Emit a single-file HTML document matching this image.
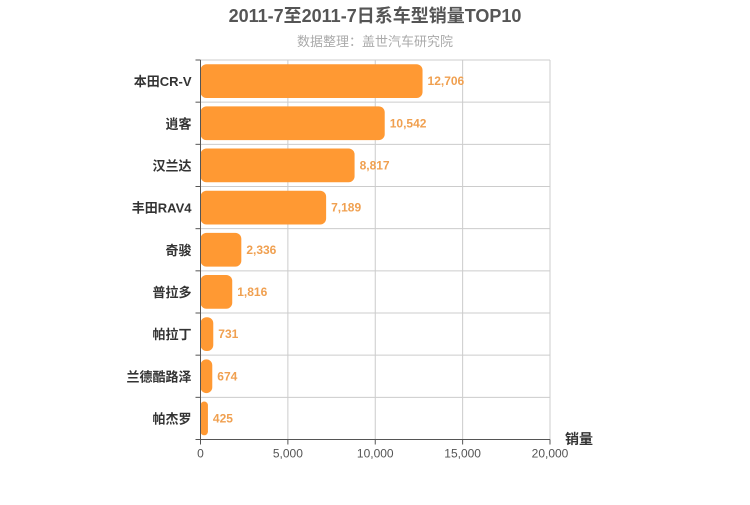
<!DOCTYPE html>
<html><head><meta charset="utf-8"><style>
body{margin:0;background:#fff;}
svg text{font-family:"Liberation Sans","Noto Sans CJK SC",sans-serif;}
</style></head><body>
<svg id="c" width="750" height="500" xmlns="http://www.w3.org/2000/svg">
<text x="375" y="22" text-anchor="middle" font-size="18" font-weight="bold" fill="#555">2011-7至2011-7日系车型销量TOP10</text>
<text x="375" y="46" text-anchor="middle" font-size="13" fill="#aaa">数据整理：盖世汽车研究院</text>
<g id="grid"></g><g id="bars"></g><g id="axes"></g>
</svg>
<script>
const categories=["本田CR-V","逍客","汉兰达","丰田RAV4","奇骏","普拉多","帕拉丁","兰德酷路泽","帕杰罗"];
const values=[12706,10542,8817,7189,2336,1816,731,674,425];
const xTicks=[0,5000,10000,15000,20000];
const xTickLabels=["0","5,000","10,000","15,000","20,000"];
const NS="http://www.w3.org/2000/svg";
const L=200.5,R=550,T=60,B=439.5,XMAX=20000;
const x=v=>L+(R-L)*v/XMAX;
const band=(B-T)/categories.length;
const y=i=>T+band*i;
function mk(p,tag,a,txt){const e=document.createElementNS(NS,tag);for(const k in a)e.setAttribute(k,a[k]);if(txt!=null)e.textContent=txt;document.getElementById(p).appendChild(e);return e;}
xTicks.forEach((t,i)=>{
 if(i>0){const g=mk('grid','line',{x1:x(t),x2:x(t),y1:T,y2:B,stroke:'#ccc','stroke-width':1});
 
 }
 const tk=mk('axes','line',{x1:x(t),x2:x(t),y1:B,y2:B+5,stroke:'#555'});
 
 
 const lb=mk('axes','text',{x:x(t),y:B+18,'text-anchor':'middle','font-size':12,fill:'#555'},xTickLabels[i]);
 
 
});
for(let i=0;i<=categories.length;i++){
 const g=mk('grid','line',{x1:L,x2:R,y1:y(i),y2:y(i),stroke:'#ccc','stroke-width':1});
 
 
 const tk=mk('axes','line',{x1:L-5,x2:L,y1:y(i),y2:y(i),stroke:'#555'});
 
 
}
categories.forEach((c,i)=>{
 const bh=band*0.8, by=y(i)+band*0.1;
 const w=Math.max(x(values[i])-L,1);
 const r=mk('bars','rect',{x:L,y:by,width:w,height:bh,rx:Math.min(6,w/2),fill:'#ff9933'});
 
 
 const v=mk('bars','text',{x:x(values[i])+5,y:by+bh/2+4,'font-size':12,'font-weight':'bold',fill:'#f0a050'},values[i].toLocaleString('en-US'));
 
 
 const cl=mk('axes','text',{x:L-9,y:y(i)+band/2+5,'text-anchor':'end','font-size':13,'font-weight':'bold',fill:'#333'},c);
 
 
});
const ya=mk('axes','line',{x1:L,x2:L,y1:T,y2:B,stroke:'#555'});


const xa=mk('axes','line',{x1:L,x2:R,y1:B,y2:B,stroke:'#555'});


const xt=mk('axes','text',{x:565,y:444,'font-size':14,'font-weight':'bold',fill:'#333'},'销量');


</script>
</body></html>
